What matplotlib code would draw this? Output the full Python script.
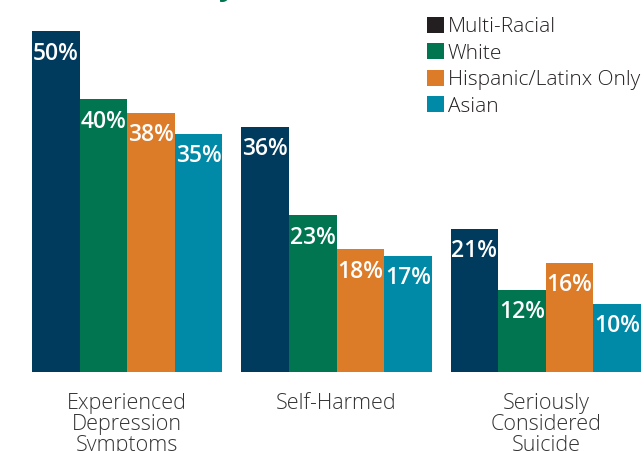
import numpy as np
import matplotlib
matplotlib.use('Agg')
import matplotlib.pyplot as plt
from matplotlib.patches import Patch

categories = ["Experienced\nDepression\nSymptoms", "Self-Harmed", "Seriously\nConsidered\nSuicide"]
groups = ["Multi-Racial", "White", "Hispanic/Latinx Only", "Asian"]
values = {
  "Multi-Racial": [50, 36, 21],
  "White": [40, 23, 12],
  "Hispanic/Latinx Only": [38, 18, 16],
  "Asian": [35, 17, 10],
}
bar_colors = ["#003a5d", "#00754f", "#dc7b28", "#008aa8"]
legend_colors = ["#231f20", "#00754f", "#dc7b28", "#008aa8"]

plt.rcParams['font.family'] = ['Open Sans', 'DejaVu Sans']

W, H = 644, 451
fig = plt.figure(figsize=(W / 100.0, H / 100.0), dpi=100)
ax = fig.add_axes([32.0 / W, (H - 372.0) / H, (641.0 - 32.0) / W, 372.0 / H])

index = np.arange(len(categories)) * 4.4
bar_width = 1.0
for i, g in enumerate(groups):
  xs = index + (i - 1.5) * bar_width
  ax.bar(xs, values[g], bar_width, color=bar_colors[i], linewidth=0)
  for x, v in zip(xs, values[g]):
    ax.text(x, v - 1.5, "%d%%" % v, ha='center', va='top', color='white',
            fontsize=16.5, fontweight='semibold')

ax.set_xlim(-2, index[-1] + 2)
ax.set_ylim(0, 54.6)
ax.set_xticks(index)
ax.set_xticklabels(categories, fontsize=15.5, color='#333333', fontweight='light',
                   linespacing=1.0)
ax.tick_params(axis='x', length=0, pad=15)
ax.set_yticks([])
for s in ax.spines.values():
  s.set_visible(False)

handles = [Patch(facecolor=c, edgecolor='none') for c in legend_colors]
fig.legend(handles, groups, loc='upper left', bbox_to_anchor=(427.0 / W, 1 - 17.0 / H),
           frameon=False, prop={'size': 15, 'weight': 'light'}, handlelength=0.8,
           handleheight=0.8, handletextpad=0.2, labelspacing=0.3, borderaxespad=0,
           borderpad=0, labelcolor='#231f20')

# title is cut off at the top of the picture, only a descender shows
fig.text(218.0 / W, 1 + 4.5 / H, "y", color='#00754f', fontsize=22, fontweight='bold',
         ha='left', va='baseline')

plt.savefig('out.png', dpi=100)
